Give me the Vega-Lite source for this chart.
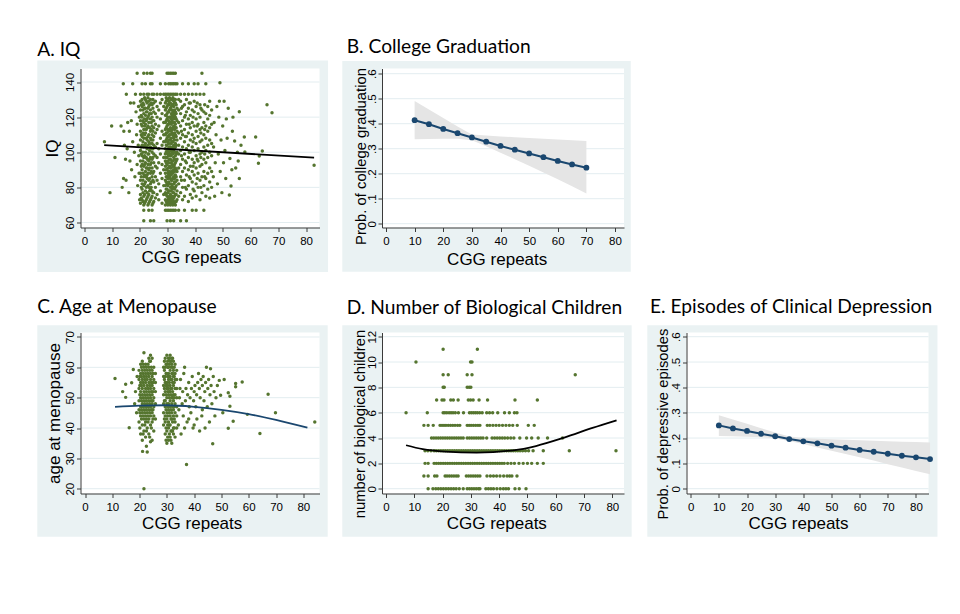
{
  "$schema": "https://vega.github.io/schema/vega-lite/v6.json",
  "description": "CGG repeats and five outcomes, Stata-style panels",
  "padding": {"left": 36.5, "top": 36.5, "right": 5, "bottom": 5},
  "background": "white",
  "datasets": {
    "iq": [
      {"cgg":7.2,"iq":106},{"cgg":9.2,"iq":77},{"cgg":9.8,"iq":115},{"cgg":11,"iq":97},{"cgg":13.2,"iq":115},{"cgg":13.6,"iq":80},{"cgg":14,"iq":139},{"cgg":14.1,"iq":85},{"cgg":14.2,"iq":112},{"cgg":14.4,"iq":104},
      {"cgg":14.8,"iq":96},{"cgg":15,"iq":84},{"cgg":15.1,"iq":133},{"cgg":15.4,"iq":102},{"cgg":15.6,"iq":117},{"cgg":16,"iq":77},{"cgg":16.2,"iq":112},{"cgg":16.4,"iq":95},{"cgg":16.6,"iq":128},{"cgg":16.9,"iq":118},
      {"cgg":17,"iq":90},{"cgg":17.4,"iq":106},{"cgg":17.4,"iq":139},{"cgg":17.8,"iq":128},{"cgg":18,"iq":100},{"cgg":18.2,"iq":86},{"cgg":18.4,"iq":133},{"cgg":18.6,"iq":123},{"cgg":18.8,"iq":110},{"cgg":19,"iq":93},
      {"cgg":19,"iq":116},{"cgg":19,"iq":145},{"cgg":19.2,"iq":81},{"cgg":19.4,"iq":104},{"cgg":19.5,"iq":126},{"cgg":19.6,"iq":98},{"cgg":19.7,"iq":88},{"cgg":19.8,"iq":120},{"cgg":19.9,"iq":73},
      {"cgg":20.2,"iq":71},{"cgg":20.2,"iq":76},{"cgg":20.2,"iq":84},{"cgg":20.2,"iq":88},{"cgg":20.2,"iq":95},{"cgg":20.2,"iq":101},{"cgg":20.2,"iq":107},{"cgg":20.2,"iq":112},{"cgg":20.2,"iq":118},{"cgg":20.2,"iq":124},{"cgg":20.2,"iq":129},{"cgg":20.2,"iq":133},
      {"cgg":20.5,"iq":74},{"cgg":20.5,"iq":80},{"cgg":20.5,"iq":86},{"cgg":20.5,"iq":92},{"cgg":20.5,"iq":99},{"cgg":20.5,"iq":103},{"cgg":20.5,"iq":110},{"cgg":20.5,"iq":116},{"cgg":20.5,"iq":121},{"cgg":20.5,"iq":127},
      {"cgg":20.8,"iq":73},{"cgg":20.8,"iq":79},{"cgg":20.8,"iq":82},{"cgg":20.8,"iq":90},{"cgg":20.8,"iq":93},{"cgg":20.8,"iq":98},{"cgg":20.8,"iq":104},{"cgg":20.8,"iq":109},{"cgg":20.8,"iq":115},{"cgg":20.8,"iq":120},{"cgg":20.8,"iq":126},{"cgg":20.8,"iq":130},{"cgg":20.8,"iq":139},
      {"cgg":21.1,"iq":72},{"cgg":21.1,"iq":77},{"cgg":21.1,"iq":84},{"cgg":21.1,"iq":88},{"cgg":21.1,"iq":95},{"cgg":21.1,"iq":100},{"cgg":21.1,"iq":106},{"cgg":21.1,"iq":111},{"cgg":21.1,"iq":118},{"cgg":21.1,"iq":124},{"cgg":21.1,"iq":128},
      {"cgg":21.4,"iq":70},{"cgg":21.4,"iq":75},{"cgg":21.4,"iq":81},{"cgg":21.4,"iq":86},{"cgg":21.4,"iq":92},{"cgg":21.4,"iq":97},{"cgg":21.4,"iq":103},{"cgg":21.4,"iq":108},{"cgg":21.4,"iq":113},{"cgg":21.4,"iq":117},{"cgg":21.4,"iq":122},{"cgg":21.4,"iq":127},{"cgg":21.4,"iq":133},{"cgg":21.4,"iq":145},{"cgg":21.4,"iq":67},{"cgg":21.4,"iq":61},
      {"cgg":21.7,"iq":71},{"cgg":21.7,"iq":76},{"cgg":21.7,"iq":82},{"cgg":21.7,"iq":87},{"cgg":21.7,"iq":93},{"cgg":21.7,"iq":98},{"cgg":21.7,"iq":104},{"cgg":21.7,"iq":110},{"cgg":21.7,"iq":115},{"cgg":21.7,"iq":119},{"cgg":21.7,"iq":125},{"cgg":21.7,"iq":131},
      {"cgg":22,"iq":72},{"cgg":22,"iq":78},{"cgg":22,"iq":83},{"cgg":22,"iq":89},{"cgg":22,"iq":94},{"cgg":22,"iq":100},{"cgg":22,"iq":105},{"cgg":22,"iq":111},{"cgg":22,"iq":116},{"cgg":22,"iq":121},{"cgg":22,"iq":125},{"cgg":22,"iq":130},{"cgg":22,"iq":139},
      {"cgg":22.3,"iq":73},{"cgg":22.3,"iq":80},{"cgg":22.3,"iq":86},{"cgg":22.3,"iq":91},{"cgg":22.3,"iq":97},{"cgg":22.3,"iq":103},{"cgg":22.3,"iq":108},{"cgg":22.3,"iq":113},{"cgg":22.3,"iq":118},{"cgg":22.3,"iq":123},{"cgg":22.3,"iq":129},
      {"cgg":22.6,"iq":74},{"cgg":22.6,"iq":77},{"cgg":22.6,"iq":85},{"cgg":22.6,"iq":87},{"cgg":22.6,"iq":91},{"cgg":22.6,"iq":96},{"cgg":22.6,"iq":102},{"cgg":22.6,"iq":107},{"cgg":22.6,"iq":114},{"cgg":22.6,"iq":119},{"cgg":22.6,"iq":123},{"cgg":22.6,"iq":128},{"cgg":22.6,"iq":133},{"cgg":22.6,"iq":145},
      {"cgg":22.9,"iq":70},{"cgg":22.9,"iq":75},{"cgg":22.9,"iq":81},{"cgg":22.9,"iq":88},{"cgg":22.9,"iq":93},{"cgg":22.9,"iq":99},{"cgg":22.9,"iq":104},{"cgg":22.9,"iq":109},{"cgg":22.9,"iq":115},{"cgg":22.9,"iq":120},{"cgg":22.9,"iq":125},{"cgg":22.9,"iq":131},
      {"cgg":23.2,"iq":71},{"cgg":23.2,"iq":76},{"cgg":23.2,"iq":80},{"cgg":23.2,"iq":84},{"cgg":23.2,"iq":90},{"cgg":23.2,"iq":95},{"cgg":23.2,"iq":99},{"cgg":23.2,"iq":106},{"cgg":23.2,"iq":110},{"cgg":23.2,"iq":117},{"cgg":23.2,"iq":121},{"cgg":23.2,"iq":126},{"cgg":23.2,"iq":129},{"cgg":23.2,"iq":133},{"cgg":23.2,"iq":67},
      {"cgg":23.5,"iq":72},{"cgg":23.5,"iq":78},{"cgg":23.5,"iq":85},{"cgg":23.5,"iq":91},{"cgg":23.5,"iq":96},{"cgg":23.5,"iq":101},{"cgg":23.5,"iq":105},{"cgg":23.5,"iq":114},{"cgg":23.5,"iq":122},{"cgg":23.5,"iq":127},
      {"cgg":23.8,"iq":73},{"cgg":23.8,"iq":79},{"cgg":23.8,"iq":82},{"cgg":23.8,"iq":88},{"cgg":23.8,"iq":93},{"cgg":23.8,"iq":97},{"cgg":23.8,"iq":103},{"cgg":23.8,"iq":108},{"cgg":23.8,"iq":112},{"cgg":23.8,"iq":119},{"cgg":23.8,"iq":124},{"cgg":23.8,"iq":130},{"cgg":23.8,"iq":139},{"cgg":23.8,"iq":145},{"cgg":23.8,"iq":61},
      {"cgg":24.1,"iq":74},{"cgg":24.1,"iq":80},{"cgg":24.1,"iq":83},{"cgg":24.1,"iq":89},{"cgg":24.1,"iq":94},{"cgg":24.1,"iq":102},{"cgg":24.1,"iq":107},{"cgg":24.1,"iq":113},{"cgg":24.1,"iq":117},{"cgg":24.1,"iq":122},{"cgg":24.1,"iq":128},
      {"cgg":24.4,"iq":70},{"cgg":24.4,"iq":75},{"cgg":24.4,"iq":78},{"cgg":24.4,"iq":86},{"cgg":24.4,"iq":91},{"cgg":24.4,"iq":96},{"cgg":24.4,"iq":100},{"cgg":24.4,"iq":105},{"cgg":24.4,"iq":110},{"cgg":24.4,"iq":115},{"cgg":24.4,"iq":120},{"cgg":24.4,"iq":127},{"cgg":24.4,"iq":133},{"cgg":24.4,"iq":139},{"cgg":24.4,"iq":145},{"cgg":24.4,"iq":67},
      {"cgg":24.7,"iq":71},{"cgg":24.7,"iq":77},{"cgg":24.7,"iq":84},{"cgg":24.7,"iq":88},{"cgg":24.7,"iq":97},{"cgg":24.7,"iq":102},{"cgg":24.7,"iq":107},{"cgg":24.7,"iq":112},{"cgg":24.7,"iq":118},{"cgg":24.7,"iq":125},{"cgg":24.7,"iq":130},
      {"cgg":25,"iq":72},{"cgg":25,"iq":77},{"cgg":25,"iq":83},{"cgg":25,"iq":89},{"cgg":25,"iq":94},{"cgg":25,"iq":99},{"cgg":25,"iq":104},{"cgg":25,"iq":109},{"cgg":25,"iq":114},{"cgg":25,"iq":118},{"cgg":25,"iq":123},{"cgg":25,"iq":128},{"cgg":25,"iq":133},{"cgg":25,"iq":61},
      {"cgg":25.6,"iq":74},{"cgg":25.6,"iq":80},{"cgg":25.6,"iq":86},{"cgg":25.6,"iq":92},{"cgg":25.6,"iq":98},{"cgg":25.6,"iq":103},{"cgg":25.6,"iq":111},{"cgg":25.6,"iq":116},{"cgg":25.6,"iq":122},{"cgg":25.6,"iq":129},
      {"cgg":26.2,"iq":76},{"cgg":26.2,"iq":84},{"cgg":26.2,"iq":91},{"cgg":26.2,"iq":97},{"cgg":26.2,"iq":105},{"cgg":26.2,"iq":113},{"cgg":26.2,"iq":120},{"cgg":26.2,"iq":126},{"cgg":26.2,"iq":133},
      {"cgg":26.8,"iq":73},{"cgg":26.8,"iq":82},{"cgg":26.8,"iq":94},{"cgg":26.8,"iq":102},{"cgg":26.8,"iq":115},{"cgg":26.8,"iq":124},
      {"cgg":27.4,"iq":78},{"cgg":27.4,"iq":88},{"cgg":27.4,"iq":99},{"cgg":27.4,"iq":108},{"cgg":27.4,"iq":119},{"cgg":27.4,"iq":128},{"cgg":27.4,"iq":133},{"cgg":27.4,"iq":139},
      {"cgg":28,"iq":71},{"cgg":28,"iq":85},{"cgg":28,"iq":93},{"cgg":28,"iq":104},{"cgg":28,"iq":112},{"cgg":28,"iq":122},{"cgg":28,"iq":130},
      {"cgg":28.6,"iq":76},{"cgg":28.6,"iq":81},{"cgg":28.6,"iq":90},{"cgg":28.6,"iq":97},{"cgg":28.6,"iq":106},{"cgg":28.6,"iq":110},{"cgg":28.6,"iq":117},{"cgg":28.6,"iq":126},{"cgg":28.6,"iq":133},
      {"cgg":29.2,"iq":70},{"cgg":29.2,"iq":73},{"cgg":29.2,"iq":77},{"cgg":29.2,"iq":81},{"cgg":29.2,"iq":84},{"cgg":29.2,"iq":88},{"cgg":29.2,"iq":92},{"cgg":29.2,"iq":95},{"cgg":29.2,"iq":99},{"cgg":29.2,"iq":102},{"cgg":29.2,"iq":106},{"cgg":29.2,"iq":110},{"cgg":29.2,"iq":113},{"cgg":29.2,"iq":117},{"cgg":29.2,"iq":121},{"cgg":29.2,"iq":124},{"cgg":29.2,"iq":128},{"cgg":29.2,"iq":133},{"cgg":29.2,"iq":139},{"cgg":29.2,"iq":67},
      {"cgg":29.5,"iq":72},{"cgg":29.5,"iq":76},{"cgg":29.5,"iq":79},{"cgg":29.5,"iq":83},{"cgg":29.5,"iq":86},{"cgg":29.5,"iq":90},{"cgg":29.5,"iq":94},{"cgg":29.5,"iq":97},{"cgg":29.5,"iq":100},{"cgg":29.5,"iq":104},{"cgg":29.5,"iq":107},{"cgg":29.5,"iq":111},{"cgg":29.5,"iq":114},{"cgg":29.5,"iq":118},{"cgg":29.5,"iq":121},{"cgg":29.5,"iq":125},{"cgg":29.5,"iq":129},{"cgg":29.5,"iq":131},
      {"cgg":29.8,"iq":71},{"cgg":29.8,"iq":75},{"cgg":29.8,"iq":79},{"cgg":29.8,"iq":82},{"cgg":29.8,"iq":86},{"cgg":29.8,"iq":90},{"cgg":29.8,"iq":93},{"cgg":29.8,"iq":97},{"cgg":29.8,"iq":101},{"cgg":29.8,"iq":104},{"cgg":29.8,"iq":108},{"cgg":29.8,"iq":111},{"cgg":29.8,"iq":115},{"cgg":29.8,"iq":119},{"cgg":29.8,"iq":122},{"cgg":29.8,"iq":126},{"cgg":29.8,"iq":130},{"cgg":29.8,"iq":133},{"cgg":29.8,"iq":145},{"cgg":29.8,"iq":67},{"cgg":29.8,"iq":61},
      {"cgg":30.1,"iq":70},{"cgg":30.1,"iq":73},{"cgg":30.1,"iq":77},{"cgg":30.1,"iq":81},{"cgg":30.1,"iq":85},{"cgg":30.1,"iq":88},{"cgg":30.1,"iq":91},{"cgg":30.1,"iq":95},{"cgg":30.1,"iq":99},{"cgg":30.1,"iq":102},{"cgg":30.1,"iq":106},{"cgg":30.1,"iq":109},{"cgg":30.1,"iq":113},{"cgg":30.1,"iq":116},{"cgg":30.1,"iq":120},{"cgg":30.1,"iq":123},{"cgg":30.1,"iq":127},{"cgg":30.1,"iq":130},
      {"cgg":30.4,"iq":72},{"cgg":30.4,"iq":74},{"cgg":30.4,"iq":78},{"cgg":30.4,"iq":83},{"cgg":30.4,"iq":87},{"cgg":30.4,"iq":89},{"cgg":30.4,"iq":94},{"cgg":30.4,"iq":98},{"cgg":30.4,"iq":100},{"cgg":30.4,"iq":105},{"cgg":30.4,"iq":109},{"cgg":30.4,"iq":112},{"cgg":30.4,"iq":116},{"cgg":30.4,"iq":118},{"cgg":30.4,"iq":123},{"cgg":30.4,"iq":127},{"cgg":30.4,"iq":129},{"cgg":30.4,"iq":133},{"cgg":30.4,"iq":139},{"cgg":30.4,"iq":145},{"cgg":30.4,"iq":67},
      {"cgg":30.7,"iq":71},{"cgg":30.7,"iq":75},{"cgg":30.7,"iq":78},{"cgg":30.7,"iq":82},{"cgg":30.7,"iq":86},{"cgg":30.7,"iq":89},{"cgg":30.7,"iq":92},{"cgg":30.7,"iq":96},{"cgg":30.7,"iq":101},{"cgg":30.7,"iq":103},{"cgg":30.7,"iq":107},{"cgg":30.7,"iq":110},{"cgg":30.7,"iq":113},{"cgg":30.7,"iq":117},{"cgg":30.7,"iq":120},{"cgg":30.7,"iq":124},{"cgg":30.7,"iq":128},{"cgg":30.7,"iq":131},
      {"cgg":31,"iq":70},{"cgg":31,"iq":73},{"cgg":31,"iq":76},{"cgg":31,"iq":80},{"cgg":31,"iq":85},{"cgg":31,"iq":88},{"cgg":31,"iq":91},{"cgg":31,"iq":96},{"cgg":31,"iq":99},{"cgg":31,"iq":103},{"cgg":31,"iq":107},{"cgg":31,"iq":110},{"cgg":31,"iq":114},{"cgg":31,"iq":117},{"cgg":31,"iq":120},{"cgg":31,"iq":125},{"cgg":31,"iq":128},{"cgg":31,"iq":133},{"cgg":31,"iq":139},{"cgg":31,"iq":145},{"cgg":31,"iq":67},{"cgg":31,"iq":61},
      {"cgg":31.3,"iq":72},{"cgg":31.3,"iq":74},{"cgg":31.3,"iq":78},{"cgg":31.3,"iq":82},{"cgg":31.3,"iq":84},{"cgg":31.3,"iq":87},{"cgg":31.3,"iq":91},{"cgg":31.3,"iq":94},{"cgg":31.3,"iq":98},{"cgg":31.3,"iq":101},{"cgg":31.3,"iq":105},{"cgg":31.3,"iq":108},{"cgg":31.3,"iq":112},{"cgg":31.3,"iq":116},{"cgg":31.3,"iq":119},{"cgg":31.3,"iq":122},{"cgg":31.3,"iq":126},{"cgg":31.3,"iq":130},
      {"cgg":31.6,"iq":71},{"cgg":31.6,"iq":75},{"cgg":31.6,"iq":79},{"cgg":31.6,"iq":81},{"cgg":31.6,"iq":84},{"cgg":31.6,"iq":89},{"cgg":31.6,"iq":93},{"cgg":31.6,"iq":95},{"cgg":31.6,"iq":100},{"cgg":31.6,"iq":102},{"cgg":31.6,"iq":106},{"cgg":31.6,"iq":111},{"cgg":31.6,"iq":113},{"cgg":31.6,"iq":118},{"cgg":31.6,"iq":121},{"cgg":31.6,"iq":124},{"cgg":31.6,"iq":127},{"cgg":31.6,"iq":130},{"cgg":31.6,"iq":133},{"cgg":31.6,"iq":139},{"cgg":31.6,"iq":145},{"cgg":31.6,"iq":67},
      {"cgg":31.9,"iq":70},{"cgg":31.9,"iq":73},{"cgg":31.9,"iq":77},{"cgg":31.9,"iq":80},{"cgg":31.9,"iq":85},{"cgg":31.9,"iq":88},{"cgg":31.9,"iq":92},{"cgg":31.9,"iq":95},{"cgg":31.9,"iq":99},{"cgg":31.9,"iq":103},{"cgg":31.9,"iq":106},{"cgg":31.9,"iq":110},{"cgg":31.9,"iq":114},{"cgg":31.9,"iq":117},{"cgg":31.9,"iq":120},{"cgg":31.9,"iq":123},{"cgg":31.9,"iq":127},{"cgg":31.9,"iq":131},
      {"cgg":32.2,"iq":72},{"cgg":32.2,"iq":74},{"cgg":32.2,"iq":77},{"cgg":32.2,"iq":82},{"cgg":32.2,"iq":86},{"cgg":32.2,"iq":90},{"cgg":32.2,"iq":92},{"cgg":32.2,"iq":97},{"cgg":32.2,"iq":101},{"cgg":32.2,"iq":104},{"cgg":32.2,"iq":108},{"cgg":32.2,"iq":109},{"cgg":32.2,"iq":115},{"cgg":32.2,"iq":119},{"cgg":32.2,"iq":122},{"cgg":32.2,"iq":126},{"cgg":32.2,"iq":129},{"cgg":32.2,"iq":133},{"cgg":32.2,"iq":139},{"cgg":32.2,"iq":145},{"cgg":32.2,"iq":67},{"cgg":32.2,"iq":61},
      {"cgg":32.5,"iq":71},{"cgg":32.5,"iq":75},{"cgg":32.5,"iq":79},{"cgg":32.5,"iq":83},{"cgg":32.5,"iq":85},{"cgg":32.5,"iq":89},{"cgg":32.5,"iq":93},{"cgg":32.5,"iq":96},{"cgg":32.5,"iq":100},{"cgg":32.5,"iq":102},{"cgg":32.5,"iq":107},{"cgg":32.5,"iq":111},{"cgg":32.5,"iq":113},{"cgg":32.5,"iq":117},{"cgg":32.5,"iq":121},{"cgg":32.5,"iq":124},{"cgg":32.5,"iq":128},{"cgg":32.5,"iq":130},
      {"cgg":32.8,"iq":70},{"cgg":32.8,"iq":76},{"cgg":32.8,"iq":80},{"cgg":32.8,"iq":83},{"cgg":32.8,"iq":87},{"cgg":32.8,"iq":91},{"cgg":32.8,"iq":94},{"cgg":32.8,"iq":98},{"cgg":32.8,"iq":103},{"cgg":32.8,"iq":105},{"cgg":32.8,"iq":110},{"cgg":32.8,"iq":114},{"cgg":32.8,"iq":116},{"cgg":32.8,"iq":120},{"cgg":32.8,"iq":123},{"cgg":32.8,"iq":128},{"cgg":32.8,"iq":130},{"cgg":32.8,"iq":133},{"cgg":32.8,"iq":139},{"cgg":32.8,"iq":145},{"cgg":32.8,"iq":67},
      {"cgg":33.1,"iq":72},{"cgg":33.1,"iq":76},{"cgg":33.1,"iq":81},{"cgg":33.1,"iq":86},{"cgg":33.1,"iq":90},{"cgg":33.1,"iq":95},{"cgg":33.1,"iq":99},{"cgg":33.1,"iq":104},{"cgg":33.1,"iq":109},{"cgg":33.1,"iq":114},{"cgg":33.1,"iq":119},{"cgg":33.1,"iq":122},{"cgg":33.1,"iq":127},
      {"cgg":33.4,"iq":73},{"cgg":33.4,"iq":78},{"cgg":33.4,"iq":84},{"cgg":33.4,"iq":89},{"cgg":33.4,"iq":96},{"cgg":33.4,"iq":100},{"cgg":33.4,"iq":107},{"cgg":33.4,"iq":112},{"cgg":33.4,"iq":118},{"cgg":33.4,"iq":125},{"cgg":33.4,"iq":133},{"cgg":33.4,"iq":139},
      {"cgg":34,"iq":75},{"cgg":34,"iq":82},{"cgg":34,"iq":91},{"cgg":34,"iq":99},{"cgg":34,"iq":104},{"cgg":34,"iq":111},{"cgg":34,"iq":117},{"cgg":34,"iq":124},{"cgg":34,"iq":130},{"cgg":34,"iq":67},
      {"cgg":34.7,"iq":77},{"cgg":34.7,"iq":86},{"cgg":34.7,"iq":93},{"cgg":34.7,"iq":101},{"cgg":34.7,"iq":108},{"cgg":34.7,"iq":115},{"cgg":34.7,"iq":122},{"cgg":34.7,"iq":129},{"cgg":34.7,"iq":133},{"cgg":34.7,"iq":61},
      {"cgg":35,"iq":84},{"cgg":35,"iq":98},{"cgg":35,"iq":112},{"cgg":35,"iq":125},
      {"cgg":35.4,"iq":73},{"cgg":35.4,"iq":80},{"cgg":35.4,"iq":89},{"cgg":35.4,"iq":96},{"cgg":35.4,"iq":103},{"cgg":35.4,"iq":110},{"cgg":35.4,"iq":118},{"cgg":35.4,"iq":126},{"cgg":35.4,"iq":139},
      {"cgg":36.1,"iq":75},{"cgg":36.1,"iq":84},{"cgg":36.1,"iq":91},{"cgg":36.1,"iq":99},{"cgg":36.1,"iq":106},{"cgg":36.1,"iq":113},{"cgg":36.1,"iq":120},{"cgg":36.1,"iq":127},{"cgg":36.1,"iq":133},{"cgg":36.1,"iq":67},
      {"cgg":36.4,"iq":80},{"cgg":36.4,"iq":95},{"cgg":36.4,"iq":109},{"cgg":36.4,"iq":121},
      {"cgg":36.8,"iq":79},{"cgg":36.8,"iq":87},{"cgg":36.8,"iq":94},{"cgg":36.8,"iq":102},{"cgg":36.8,"iq":109},{"cgg":36.8,"iq":116},{"cgg":36.8,"iq":123},{"cgg":36.8,"iq":130},{"cgg":36.8,"iq":61},
      {"cgg":37.5,"iq":72},{"cgg":37.5,"iq":81},{"cgg":37.5,"iq":90},{"cgg":37.5,"iq":97},{"cgg":37.5,"iq":104},{"cgg":37.5,"iq":111},{"cgg":37.5,"iq":119},{"cgg":37.5,"iq":125},{"cgg":37.5,"iq":133},{"cgg":37.5,"iq":139},
      {"cgg":37.8,"iq":86},{"cgg":37.8,"iq":100},{"cgg":37.8,"iq":116},{"cgg":37.8,"iq":128},
      {"cgg":38.2,"iq":76},{"cgg":38.2,"iq":85},{"cgg":38.2,"iq":92},{"cgg":38.2,"iq":100},{"cgg":38.2,"iq":107},{"cgg":38.2,"iq":114},{"cgg":38.2,"iq":121},{"cgg":38.2,"iq":128},
      {"cgg":38.9,"iq":74},{"cgg":38.9,"iq":83},{"cgg":38.9,"iq":89},{"cgg":38.9,"iq":96},{"cgg":38.9,"iq":103},{"cgg":38.9,"iq":110},{"cgg":38.9,"iq":117},{"cgg":38.9,"iq":124},{"cgg":38.9,"iq":133},{"cgg":38.9,"iq":67},
      {"cgg":39.2,"iq":79},{"cgg":39.2,"iq":92},{"cgg":39.2,"iq":106},{"cgg":39.2,"iq":120},
      {"cgg":39.6,"iq":78},{"cgg":39.6,"iq":87},{"cgg":39.6,"iq":94},{"cgg":39.6,"iq":101},{"cgg":39.6,"iq":108},{"cgg":39.6,"iq":115},{"cgg":39.6,"iq":123},{"cgg":39.6,"iq":129},{"cgg":39.6,"iq":139},
      {"cgg":40.3,"iq":75},{"cgg":40.3,"iq":82},{"cgg":40.3,"iq":91},{"cgg":40.3,"iq":98},{"cgg":40.3,"iq":105},{"cgg":40.3,"iq":112},{"cgg":40.3,"iq":119},{"cgg":40.3,"iq":126},{"cgg":40.3,"iq":133},{"cgg":40.3,"iq":67},
      {"cgg":40.7,"iq":85},{"cgg":40.7,"iq":96},{"cgg":40.7,"iq":115},{"cgg":40.7,"iq":128},
      {"cgg":41,"iq":80},{"cgg":41,"iq":88},{"cgg":41,"iq":95},{"cgg":41,"iq":102},{"cgg":41,"iq":109},{"cgg":41,"iq":116},{"cgg":41,"iq":122},{"cgg":41,"iq":139},
      {"cgg":41.7,"iq":73},{"cgg":41.7,"iq":84},{"cgg":41.7,"iq":92},{"cgg":41.7,"iq":99},{"cgg":41.7,"iq":106},{"cgg":41.7,"iq":113},{"cgg":41.7,"iq":120},{"cgg":41.7,"iq":127},{"cgg":41.7,"iq":133},
      {"cgg":42,"iq":80},{"cgg":42,"iq":97},{"cgg":42,"iq":111},{"cgg":42,"iq":125},
      {"cgg":42.4,"iq":77},{"cgg":42.4,"iq":86},{"cgg":42.4,"iq":93},{"cgg":42.4,"iq":100},{"cgg":42.4,"iq":107},{"cgg":42.4,"iq":114},{"cgg":42.4,"iq":124},{"cgg":42.4,"iq":145},
      {"cgg":43.1,"iq":81},{"cgg":43.1,"iq":89},{"cgg":43.1,"iq":96},{"cgg":43.1,"iq":103},{"cgg":43.1,"iq":110},{"cgg":43.1,"iq":117},{"cgg":43.1,"iq":123},{"cgg":43.1,"iq":133},{"cgg":43.1,"iq":67},
      {"cgg":43.4,"iq":86},{"cgg":43.4,"iq":99},{"cgg":43.4,"iq":113},{"cgg":43.4,"iq":127},
      {"cgg":43.8,"iq":75},{"cgg":43.8,"iq":85},{"cgg":43.8,"iq":94},{"cgg":43.8,"iq":101},{"cgg":43.8,"iq":108},{"cgg":43.8,"iq":115},{"cgg":43.8,"iq":122},{"cgg":43.8,"iq":139},
      {"cgg":44.5,"iq":79},{"cgg":44.5,"iq":88},{"cgg":44.5,"iq":97},{"cgg":44.5,"iq":104},{"cgg":44.5,"iq":112},{"cgg":44.5,"iq":119},{"cgg":44.5,"iq":126},
      {"cgg":45.2,"iq":74},{"cgg":45.2,"iq":83},{"cgg":45.2,"iq":91},{"cgg":45.2,"iq":100},{"cgg":45.2,"iq":107},{"cgg":45.2,"iq":114},{"cgg":45.2,"iq":121},{"cgg":45.2,"iq":129},
      {"cgg":45.9,"iq":80},{"cgg":45.9,"iq":89},{"cgg":45.9,"iq":98},{"cgg":45.9,"iq":105},{"cgg":45.9,"iq":116},{"cgg":45.9,"iq":124},
      {"cgg":46.5,"iq":86},{"cgg":46.6,"iq":103},{"cgg":46.8,"iq":117},{"cgg":47,"iq":75},{"cgg":47.2,"iq":94},{"cgg":47.5,"iq":110},{"cgg":47.8,"iq":126},{"cgg":48,"iq":82},{"cgg":48.3,"iq":99},{"cgg":48.5,"iq":120},
      {"cgg":48.7,"iq":129},{"cgg":48.9,"iq":139.6},{"cgg":49,"iq":89},{"cgg":49.3,"iq":107},{"cgg":49.6,"iq":77},{"cgg":49.9,"iq":115},{"cgg":50.2,"iq":94},{"cgg":50.4,"iq":129},{"cgg":50.7,"iq":101},{"cgg":51,"iq":85},
      {"cgg":51.2,"iq":119},{"cgg":51.5,"iq":108},{"cgg":51.9,"iq":125},{"cgg":52.3,"iq":75.6},{"cgg":52.5,"iq":96.5},{"cgg":52.9,"iq":80.8},{"cgg":53.2,"iq":90},{"cgg":53.4,"iq":112},{"cgg":53.6,"iq":120},{"cgg":54.2,"iq":106.4},
      {"cgg":54.6,"iq":91},{"cgg":55.2,"iq":100},{"cgg":55.5,"iq":95},{"cgg":55.9,"iq":123.1},{"cgg":55.9,"iq":85},{"cgg":56.5,"iq":104},
      {"cgg":57.7,"iq":108.7},{"cgg":57.9,"iq":100.1},{"cgg":61.8,"iq":108.7},{"cgg":62.8,"iq":93.7},{"cgg":63.1,"iq":97.9},{"cgg":64.2,"iq":100.7},{"cgg":65.9,"iq":127},{"cgg":67.7,"iq":122.5},{"cgg":82.9,"iq":92.6}
    ],
    "iqfit": [{"cgg":7.1,"iq":104},{"cgg":82.9,"iq":96.9}],
    "college": [
      {"cgg":10,"prob":0.414,"lo":0.338,"hi":0.491},{"cgg":15,"prob":0.398,"lo":0.339,"hi":0.457},{"cgg":20,"prob":0.379,"lo":0.34,"hi":0.423},
      {"cgg":25,"prob":0.362,"lo":0.34,"hi":0.389},{"cgg":30,"prob":0.345,"lo":0.334,"hi":0.357},{"cgg":35,"prob":0.328,"lo":0.31,"hi":0.353},
      {"cgg":40,"prob":0.311,"lo":0.284,"hi":0.349},{"cgg":45,"prob":0.296,"lo":0.258,"hi":0.346},{"cgg":50,"prob":0.281,"lo":0.232,"hi":0.343},
      {"cgg":55,"prob":0.266,"lo":0.205,"hi":0.34},{"cgg":60,"prob":0.251,"lo":0.178,"hi":0.337},{"cgg":65,"prob":0.237,"lo":0.15,"hi":0.334},
      {"cgg":70,"prob":0.224,"lo":0.121,"hi":0.331}
    ],
    "meno": [
      {"cgg":11,"age":56.3},{"cgg":13.8,"age":52},{"cgg":14.9,"age":50.1},{"cgg":14.9,"age":54.4},{"cgg":16.2,"age":40.1},{"cgg":17.1,"age":54.9},{"cgg":17.7,"age":59.3},{"cgg":18.2,"age":48},{"cgg":18.5,"age":52},{"cgg":18.9,"age":45},{"cgg":19.1,"age":57},
      {"cgg":19.8,"age":42},{"cgg":19.8,"age":46},{"cgg":19.8,"age":49},{"cgg":19.8,"age":53},{"cgg":19.8,"age":56},{"cgg":19.8,"age":59},
      {"cgg":20.1,"age":40},{"cgg":20.1,"age":45},{"cgg":20.1,"age":51},{"cgg":20.1,"age":54},{"cgg":20.1,"age":57},
      {"cgg":20.4,"age":38},{"cgg":20.4,"age":44},{"cgg":20.4,"age":47},{"cgg":20.4,"age":50},{"cgg":20.4,"age":52},{"cgg":20.4,"age":55},{"cgg":20.4,"age":58},{"cgg":20.4,"age":61},
      {"cgg":20.7,"age":43},{"cgg":20.7,"age":46},{"cgg":20.7,"age":49},{"cgg":20.7,"age":54},{"cgg":20.7,"age":57},{"cgg":20.7,"age":60},
      {"cgg":21,"age":36},{"cgg":21,"age":41},{"cgg":21,"age":45},{"cgg":21,"age":48},{"cgg":21,"age":51},{"cgg":21,"age":53},{"cgg":21,"age":56},{"cgg":21,"age":59},{"cgg":21,"age":62},
      {"cgg":21.3,"age":38},{"cgg":21.3,"age":44},{"cgg":21.3,"age":47},{"cgg":21.3,"age":50},{"cgg":21.3,"age":55},{"cgg":21.3,"age":58},{"cgg":21.3,"age":61},
      {"cgg":21.6,"age":39},{"cgg":21.6,"age":43},{"cgg":21.6,"age":46},{"cgg":21.6,"age":49},{"cgg":21.6,"age":52},{"cgg":21.6,"age":54},{"cgg":21.6,"age":57},{"cgg":21.6,"age":60},{"cgg":21.6,"age":64.8},{"cgg":21.6,"age":20},
      {"cgg":21.9,"age":41},{"cgg":21.9,"age":45},{"cgg":21.9,"age":48},{"cgg":21.9,"age":51},{"cgg":21.9,"age":56},{"cgg":21.9,"age":59},
      {"cgg":22.2,"age":37},{"cgg":22.2,"age":42},{"cgg":22.2,"age":44},{"cgg":22.2,"age":47},{"cgg":22.2,"age":50},{"cgg":22.2,"age":53},{"cgg":22.2,"age":55},{"cgg":22.2,"age":58},{"cgg":22.2,"age":61},
      {"cgg":22.5,"age":39},{"cgg":22.5,"age":43},{"cgg":22.5,"age":46},{"cgg":22.5,"age":49},{"cgg":22.5,"age":52},{"cgg":22.5,"age":57},{"cgg":22.5,"age":60},
      {"cgg":22.8,"age":40},{"cgg":22.8,"age":45},{"cgg":22.8,"age":48},{"cgg":22.8,"age":51},{"cgg":22.8,"age":54},{"cgg":22.8,"age":56},{"cgg":22.8,"age":59},{"cgg":22.8,"age":32.1},
      {"cgg":23.1,"age":42},{"cgg":23.1,"age":44},{"cgg":23.1,"age":47},{"cgg":23.1,"age":50},{"cgg":23.1,"age":53},{"cgg":23.1,"age":58},{"cgg":23.1,"age":61},
      {"cgg":23.4,"age":38},{"cgg":23.4,"age":43},{"cgg":23.4,"age":46},{"cgg":23.4,"age":49},{"cgg":23.4,"age":52},{"cgg":23.4,"age":55},{"cgg":23.4,"age":57},{"cgg":23.4,"age":60},{"cgg":23.4,"age":63},
      {"cgg":23.7,"age":37},{"cgg":23.7,"age":45},{"cgg":23.7,"age":48},{"cgg":23.7,"age":51},{"cgg":23.7,"age":54},{"cgg":23.7,"age":59},{"cgg":23.7,"age":62},
      {"cgg":24,"age":41},{"cgg":24,"age":44},{"cgg":24,"age":47},{"cgg":24,"age":50},{"cgg":24,"age":53},{"cgg":24,"age":56},{"cgg":24,"age":58},{"cgg":24,"age":62},{"cgg":24,"age":64},
      {"cgg":24.3,"age":40},{"cgg":24.3,"age":46},{"cgg":24.3,"age":49},{"cgg":24.3,"age":52},{"cgg":24.3,"age":55},{"cgg":24.3,"age":60},
      {"cgg":24.6,"age":36},{"cgg":24.6,"age":42},{"cgg":24.6,"age":45},{"cgg":24.6,"age":48},{"cgg":24.6,"age":51},{"cgg":24.6,"age":54},{"cgg":24.6,"age":57},{"cgg":24.6,"age":59},{"cgg":24.6,"age":63},
      {"cgg":24.9,"age":43},{"cgg":24.9,"age":46},{"cgg":24.9,"age":49},{"cgg":24.9,"age":52},{"cgg":24.9,"age":55},{"cgg":24.9,"age":58},
      {"cgg":25.2,"age":39},{"cgg":25.2,"age":44},{"cgg":25.2,"age":47},{"cgg":25.2,"age":50},{"cgg":25.2,"age":53},{"cgg":25.2,"age":56},{"cgg":25.2,"age":60},
      {"cgg":25.8,"age":43},{"cgg":25.8,"age":48},{"cgg":25.8,"age":52},{"cgg":25.8,"age":55},{"cgg":25.8,"age":58},
      {"cgg":21.1,"age":32.3},{"cgg":22.5,"age":34},{"cgg":24,"age":35.5},
      {"cgg":28.8,"age":41},{"cgg":28.8,"age":45},{"cgg":28.8,"age":48},{"cgg":28.8,"age":51},{"cgg":28.8,"age":54},{"cgg":28.8,"age":57},{"cgg":28.8,"age":60},
      {"cgg":29.1,"age":43},{"cgg":29.1,"age":49},{"cgg":29.1,"age":53},{"cgg":29.1,"age":56},{"cgg":29.1,"age":59},{"cgg":29.1,"age":62},
      {"cgg":29.4,"age":38},{"cgg":29.4,"age":42},{"cgg":29.4,"age":44},{"cgg":29.4,"age":47},{"cgg":29.4,"age":49},{"cgg":29.4,"age":52},{"cgg":29.4,"age":55},{"cgg":29.4,"age":57},{"cgg":29.4,"age":60},{"cgg":29.4,"age":63},
      {"cgg":29.7,"age":36},{"cgg":29.7,"age":40},{"cgg":29.7,"age":46},{"cgg":29.7,"age":51},{"cgg":29.7,"age":54},{"cgg":29.7,"age":58},{"cgg":29.7,"age":61},
      {"cgg":30,"age":35},{"cgg":30,"age":39},{"cgg":30,"age":43},{"cgg":30,"age":45},{"cgg":30,"age":48},{"cgg":30,"age":50},{"cgg":30,"age":53},{"cgg":30,"age":55},{"cgg":30,"age":58},{"cgg":30,"age":61},{"cgg":30,"age":64},
      {"cgg":30.3,"age":37},{"cgg":30.3,"age":41},{"cgg":30.3,"age":44},{"cgg":30.3,"age":47},{"cgg":30.3,"age":52},{"cgg":30.3,"age":54},{"cgg":30.3,"age":57},{"cgg":30.3,"age":60},{"cgg":30.3,"age":62},
      {"cgg":30.6,"age":36},{"cgg":30.6,"age":40},{"cgg":30.6,"age":42},{"cgg":30.6,"age":46},{"cgg":30.6,"age":48},{"cgg":30.6,"age":51},{"cgg":30.6,"age":53},{"cgg":30.6,"age":56},{"cgg":30.6,"age":58},{"cgg":30.6,"age":60},{"cgg":30.6,"age":63},
      {"cgg":30.9,"age":38},{"cgg":30.9,"age":41},{"cgg":30.9,"age":45},{"cgg":30.9,"age":50},{"cgg":30.9,"age":52},{"cgg":30.9,"age":55},{"cgg":30.9,"age":57},{"cgg":30.9,"age":61},{"cgg":30.9,"age":63},
      {"cgg":31.2,"age":37},{"cgg":31.2,"age":41},{"cgg":31.2,"age":44},{"cgg":31.2,"age":47},{"cgg":31.2,"age":49},{"cgg":31.2,"age":52},{"cgg":31.2,"age":54},{"cgg":31.2,"age":57},{"cgg":31.2,"age":59},{"cgg":31.2,"age":62},{"cgg":31.2,"age":64},
      {"cgg":31.5,"age":36},{"cgg":31.5,"age":39},{"cgg":31.5,"age":43},{"cgg":31.5,"age":46},{"cgg":31.5,"age":51},{"cgg":31.5,"age":53},{"cgg":31.5,"age":56},{"cgg":31.5,"age":60},{"cgg":31.5,"age":62},
      {"cgg":31.8,"age":35},{"cgg":31.8,"age":39},{"cgg":31.8,"age":43},{"cgg":31.8,"age":45},{"cgg":31.8,"age":48},{"cgg":31.8,"age":50},{"cgg":31.8,"age":53},{"cgg":31.8,"age":56},{"cgg":31.8,"age":58},{"cgg":31.8,"age":61},{"cgg":31.8,"age":63},
      {"cgg":32.1,"age":39},{"cgg":32.1,"age":42},{"cgg":32.1,"age":47},{"cgg":32.1,"age":50},{"cgg":32.1,"age":52},{"cgg":32.1,"age":55},{"cgg":32.1,"age":58},{"cgg":32.1,"age":60},{"cgg":32.1,"age":63},
      {"cgg":32.4,"age":38},{"cgg":32.4,"age":40},{"cgg":32.4,"age":44},{"cgg":32.4,"age":46},{"cgg":32.4,"age":49},{"cgg":32.4,"age":51},{"cgg":32.4,"age":54},{"cgg":32.4,"age":57},{"cgg":32.4,"age":59},{"cgg":32.4,"age":62},
      {"cgg":32.7,"age":40},{"cgg":32.7,"age":43},{"cgg":32.7,"age":47},{"cgg":32.7,"age":50},{"cgg":32.7,"age":55},{"cgg":32.7,"age":57},{"cgg":32.7,"age":60},
      {"cgg":33,"age":37},{"cgg":33,"age":42},{"cgg":33,"age":45},{"cgg":33,"age":48},{"cgg":33,"age":51},{"cgg":33,"age":53},{"cgg":33,"age":56},{"cgg":33,"age":58},{"cgg":33,"age":61},
      {"cgg":33.6,"age":40},{"cgg":33.6,"age":44},{"cgg":33.6,"age":47},{"cgg":33.6,"age":50},{"cgg":33.6,"age":53},{"cgg":33.6,"age":56},{"cgg":33.6,"age":59},
      {"cgg":34.2,"age":41},{"cgg":34.4,"age":46},{"cgg":34.6,"age":50},{"cgg":34.8,"age":53},{"cgg":35,"age":56},{"cgg":35.2,"age":38},{"cgg":35.6,"age":48},{"cgg":35.8,"age":52},{"cgg":36,"age":44},{"cgg":36.2,"age":58},
      {"cgg":36.5,"age":40},{"cgg":36.5,"age":60},{"cgg":36.8,"age":49},{"cgg":37,"age":53},{"cgg":37.2,"age":28},{"cgg":37.4,"age":42},{"cgg":37.6,"age":51},{"cgg":38,"age":43},{"cgg":38,"age":55},{"cgg":38.2,"age":47},
      {"cgg":38.5,"age":50},{"cgg":38.8,"age":45},{"cgg":39,"age":53},{"cgg":39.3,"age":57},{"cgg":39.6,"age":40},{"cgg":39.8,"age":49},{"cgg":40,"age":41},{"cgg":40,"age":52},{"cgg":40.3,"age":54},{"cgg":40.6,"age":47},
      {"cgg":40.9,"age":51},{"cgg":41,"age":43},{"cgg":41.3,"age":55},{"cgg":41.6,"age":58},{"cgg":41.9,"age":53},{"cgg":42,"age":39},{"cgg":42.2,"age":50},{"cgg":42.5,"age":56},{"cgg":42.8,"age":44},{"cgg":43,"age":46},
      {"cgg":43,"age":54},{"cgg":43.3,"age":57},{"cgg":43.6,"age":49},{"cgg":43.9,"age":52},{"cgg":44,"age":40},{"cgg":44.2,"age":55},{"cgg":44.5,"age":60},{"cgg":44.8,"age":47},{"cgg":45,"age":53},{"cgg":45.3,"age":56},
      {"cgg":45.6,"age":42},{"cgg":45.8,"age":51},{"cgg":46,"age":59.5},{"cgg":46.2,"age":54},{"cgg":46.5,"age":48},{"cgg":46.8,"age":34.8},{"cgg":47,"age":57},{"cgg":47.3,"age":52},{"cgg":47.6,"age":44},{"cgg":48,"age":50},
      {"cgg":48.5,"age":54},{"cgg":49.2,"age":55.7},{"cgg":49.7,"age":50.8},{"cgg":50.5,"age":45},{"cgg":51,"age":56},{"cgg":52.5,"age":51.6},{"cgg":53.1,"age":50.5},{"cgg":52.5,"age":39.9},{"cgg":53.1,"age":47.2},{"cgg":54.3,"age":42.2},
      {"cgg":55.2,"age":54.7},{"cgg":55.2,"age":53.6},{"cgg":57.6,"age":55.2},{"cgg":59.5,"age":44.5},{"cgg":64.1,"age":38.2},{"cgg":67.1,"age":51.1},{"cgg":69.8,"age":45},{"cgg":84.2,"age":42}
    ],
    "menofit": [{"cgg":11,"age":47},{"cgg":20,"age":47.4},{"cgg":30,"age":47.5},{"cgg":40,"age":47},{"cgg":50,"age":46},{"cgg":60,"age":44.6},{"cgg":70,"age":42.7},{"cgg":81.5,"age":40.1}],
    "kids": [
      {"cgg":20.2,"children":11},{"cgg":32.3,"children":11},
      {"cgg":10.6,"children":10},{"cgg":29.9,"children":10},{"cgg":30.4,"children":10},
      {"cgg":20.2,"children":9},{"cgg":22,"children":9},{"cgg":28.7,"children":9},{"cgg":30.4,"children":9},{"cgg":66.9,"children":9},
      {"cgg":20.2,"children":8},{"cgg":20.6,"children":8},{"cgg":28.7,"children":8},{"cgg":29.4,"children":8},{"cgg":30,"children":8},
      {"cgg":17.9,"children":7},{"cgg":19.8,"children":7},{"cgg":20.5,"children":7},{"cgg":22.9,"children":7},{"cgg":23.8,"children":7},{"cgg":25.5,"children":7},{"cgg":29.1,"children":7},{"cgg":29.9,"children":7},{"cgg":30.8,"children":7},{"cgg":32.9,"children":7},{"cgg":35.9,"children":7},{"cgg":45.6,"children":7},{"cgg":53.5,"children":7},
      {"cgg":7.1,"children":6},{"cgg":14.6,"children":6},{"cgg":20.2,"children":6},{"cgg":20.8,"children":6},{"cgg":21.5,"children":6},{"cgg":22.3,"children":6},{"cgg":23,"children":6},{"cgg":23.7,"children":6},{"cgg":24.5,"children":6},{"cgg":25.6,"children":6},
      {"cgg":27.4,"children":6},{"cgg":29.5,"children":6},{"cgg":30.2,"children":6},{"cgg":30.9,"children":6},{"cgg":31.6,"children":6},{"cgg":32.3,"children":6},{"cgg":33.1,"children":6},{"cgg":34,"children":6},{"cgg":35.6,"children":6},{"cgg":36.6,"children":6},
      {"cgg":37.7,"children":6},{"cgg":39.5,"children":6},{"cgg":41.9,"children":6},{"cgg":43.6,"children":6},{"cgg":45.4,"children":6},{"cgg":46.3,"children":6},
      {"cgg":13.4,"children":5},{"cgg":14.9,"children":5},{"cgg":16.7,"children":5},{"cgg":19.1,"children":5},{"cgg":19.8,"children":5},{"cgg":20.5,"children":5},{"cgg":21.2,"children":5},{"cgg":22,"children":5},{"cgg":22.8,"children":5},{"cgg":23.6,"children":5},
      {"cgg":24.4,"children":5},{"cgg":25.3,"children":5},{"cgg":26.1,"children":5},{"cgg":28.7,"children":5},{"cgg":29.4,"children":5},{"cgg":30.1,"children":5},{"cgg":30.9,"children":5},{"cgg":31.7,"children":5},{"cgg":32.5,"children":5},{"cgg":33.2,"children":5},
      {"cgg":35.8,"children":5},{"cgg":36.7,"children":5},{"cgg":37.8,"children":5},{"cgg":38.9,"children":5},{"cgg":40,"children":5},{"cgg":41.2,"children":5},{"cgg":42.4,"children":5},{"cgg":43.6,"children":5},{"cgg":44.8,"children":5},{"cgg":46.4,"children":5},{"cgg":50.3,"children":5},{"cgg":52.4,"children":5},
      {"cgg":16.1,"children":4},{"cgg":16.9,"children":4},{"cgg":17.7,"children":4},{"cgg":18.5,"children":4},{"cgg":19.3,"children":4},{"cgg":20.1,"children":4},{"cgg":20.9,"children":4},{"cgg":21.7,"children":4},{"cgg":22.5,"children":4},{"cgg":23.3,"children":4},
      {"cgg":24.1,"children":4},{"cgg":24.9,"children":4},{"cgg":25.7,"children":4},{"cgg":26.5,"children":4},{"cgg":27.3,"children":4},{"cgg":28.7,"children":4},{"cgg":29.5,"children":4},{"cgg":30.3,"children":4},{"cgg":31.1,"children":4},{"cgg":31.9,"children":4},
      {"cgg":32.7,"children":4},{"cgg":33.5,"children":4},{"cgg":34.3,"children":4},{"cgg":35.6,"children":4},{"cgg":37.5,"children":4},{"cgg":38.4,"children":4},{"cgg":39.3,"children":4},{"cgg":40.2,"children":4},{"cgg":41.1,"children":4},{"cgg":42,"children":4},
      {"cgg":43,"children":4},{"cgg":44.1,"children":4},{"cgg":45.2,"children":4},{"cgg":47.3,"children":4},{"cgg":49.7,"children":4},{"cgg":51.5,"children":4},{"cgg":53.8,"children":4},{"cgg":57.1,"children":4},{"cgg":62.4,"children":4},
      {"cgg":13.8,"children":3},{"cgg":14.8,"children":3},{"cgg":15.9,"children":3},{"cgg":17,"children":3},{"cgg":17.8,"children":3},{"cgg":18.6,"children":3},{"cgg":19.4,"children":3},{"cgg":20.2,"children":3},{"cgg":21,"children":3},{"cgg":21.8,"children":3},
      {"cgg":22.6,"children":3},{"cgg":23.4,"children":3},{"cgg":24.2,"children":3},{"cgg":25,"children":3},{"cgg":25.8,"children":3},{"cgg":26.6,"children":3},{"cgg":27.4,"children":3},{"cgg":28.2,"children":3},{"cgg":29,"children":3},{"cgg":29.8,"children":3},
      {"cgg":30.6,"children":3},{"cgg":31.4,"children":3},{"cgg":32.2,"children":3},{"cgg":33,"children":3},{"cgg":33.8,"children":3},{"cgg":34.6,"children":3},{"cgg":35.4,"children":3},{"cgg":36.2,"children":3},{"cgg":37,"children":3},{"cgg":37.8,"children":3},
      {"cgg":38.6,"children":3},{"cgg":39.4,"children":3},{"cgg":40.2,"children":3},{"cgg":41,"children":3},{"cgg":41.8,"children":3},{"cgg":42.6,"children":3},{"cgg":43.4,"children":3},{"cgg":44.2,"children":3},{"cgg":45,"children":3},{"cgg":45.8,"children":3},
      {"cgg":46.6,"children":3},{"cgg":47.4,"children":3},{"cgg":48.3,"children":3},{"cgg":49.3,"children":3},{"cgg":50.4,"children":3},{"cgg":52,"children":3},{"cgg":55.6,"children":3},{"cgg":64.8,"children":3},{"cgg":81.3,"children":3},
      {"cgg":13.8,"children":2},{"cgg":14.9,"children":2},{"cgg":17,"children":2},{"cgg":17.8,"children":2},{"cgg":18.6,"children":2},{"cgg":19.4,"children":2},{"cgg":20.2,"children":2},{"cgg":21,"children":2},{"cgg":21.8,"children":2},{"cgg":22.6,"children":2},
      {"cgg":23.4,"children":2},{"cgg":24.2,"children":2},{"cgg":25,"children":2},{"cgg":25.8,"children":2},{"cgg":26.6,"children":2},{"cgg":27.4,"children":2},{"cgg":28.2,"children":2},{"cgg":29,"children":2},{"cgg":29.8,"children":2},{"cgg":30.6,"children":2},
      {"cgg":31.4,"children":2},{"cgg":32.2,"children":2},{"cgg":33,"children":2},{"cgg":33.8,"children":2},{"cgg":34.6,"children":2},{"cgg":35.4,"children":2},{"cgg":36.2,"children":2},{"cgg":37,"children":2},{"cgg":37.8,"children":2},{"cgg":38.6,"children":2},
      {"cgg":39.4,"children":2},{"cgg":40.2,"children":2},{"cgg":41,"children":2},{"cgg":41.8,"children":2},{"cgg":43,"children":2},{"cgg":44.2,"children":2},{"cgg":45.4,"children":2},{"cgg":47,"children":2},{"cgg":48.5,"children":2},{"cgg":50,"children":2},
      {"cgg":51.5,"children":2},{"cgg":53.5,"children":2},{"cgg":55.6,"children":2},
      {"cgg":13.4,"children":1},{"cgg":14.9,"children":1},{"cgg":17.2,"children":1},{"cgg":18,"children":1},{"cgg":20.9,"children":1},{"cgg":21.6,"children":1},{"cgg":22.4,"children":1},{"cgg":23.2,"children":1},{"cgg":24,"children":1},{"cgg":24.8,"children":1},
      {"cgg":25.5,"children":1},{"cgg":28.4,"children":1},{"cgg":29.2,"children":1},{"cgg":30,"children":1},{"cgg":30.8,"children":1},{"cgg":31.6,"children":1},{"cgg":32.4,"children":1},{"cgg":33.2,"children":1},{"cgg":35.7,"children":1},{"cgg":36.9,"children":1},
      {"cgg":38,"children":1},{"cgg":39.1,"children":1},{"cgg":40.3,"children":1},{"cgg":41.6,"children":1},{"cgg":42.8,"children":1},{"cgg":43.7,"children":1},{"cgg":44.5,"children":1},{"cgg":46.3,"children":1},
      {"cgg":14.9,"children":0},{"cgg":16.6,"children":0},{"cgg":17.6,"children":0},{"cgg":18.5,"children":0},{"cgg":19.4,"children":0},{"cgg":20.3,"children":0},{"cgg":21.2,"children":0},{"cgg":22.1,"children":0},{"cgg":23,"children":0},{"cgg":23.9,"children":0},
      {"cgg":24.8,"children":0},{"cgg":25.9,"children":0},{"cgg":27.3,"children":0},{"cgg":28.7,"children":0},{"cgg":29.5,"children":0},{"cgg":30.3,"children":0},{"cgg":31.1,"children":0},{"cgg":31.9,"children":0},{"cgg":32.7,"children":0},{"cgg":33.2,"children":0},
      {"cgg":35.3,"children":0},{"cgg":36.2,"children":0},{"cgg":37.1,"children":0},{"cgg":38,"children":0},{"cgg":39.2,"children":0},{"cgg":40.4,"children":0},{"cgg":41.5,"children":0},{"cgg":42.4,"children":0},{"cgg":43.3,"children":0},{"cgg":45.6,"children":0},
      {"cgg":47.1,"children":0},{"cgg":49.5,"children":0}
    ],
    "kidsfit": [{"cgg":7.1,"children":3.43},{"cgg":13,"children":3.12},{"cgg":21,"children":2.93},{"cgg":32,"children":2.85},{"cgg":45,"children":3.03},{"cgg":53,"children":3.37},{"cgg":63,"children":4.03},{"cgg":73,"children":4.8},{"cgg":81.5,"children":5.4}],
    "depress": [
      {"cgg":10,"prob":0.25,"lo":0.208,"hi":0.29},{"cgg":15,"prob":0.238,"lo":0.207,"hi":0.273},{"cgg":20,"prob":0.228,"lo":0.205,"hi":0.256},{"cgg":25,"prob":0.217,"lo":0.203,"hi":0.239},
      {"cgg":30,"prob":0.207,"lo":0.198,"hi":0.222},{"cgg":35,"prob":0.196,"lo":0.188,"hi":0.206},{"cgg":40,"prob":0.187,"lo":0.176,"hi":0.2},{"cgg":45,"prob":0.179,"lo":0.163,"hi":0.197},
      {"cgg":50,"prob":0.17,"lo":0.15,"hi":0.195},{"cgg":55,"prob":0.162,"lo":0.137,"hi":0.193},{"cgg":60,"prob":0.153,"lo":0.124,"hi":0.191},{"cgg":65,"prob":0.146,"lo":0.111,"hi":0.189},
      {"cgg":70,"prob":0.138,"lo":0.097,"hi":0.187},{"cgg":75,"prob":0.13,"lo":0.084,"hi":0.185},{"cgg":80,"prob":0.124,"lo":0.07,"hi":0.184},{"cgg":85,"prob":0.117,"lo":0.057,"hi":0.182}
    ]
  },
  "columns": 3,
  "spacing": {"row": 105, "column": 62.5},
  "bounds": "flush",
  "concat": [
    {
      "width": 239, "height": 159,
      "title": {"text": "A. IQ", "offset": 0.5},
      "layer": [
        {"data": {"values": [{}]}, "mark": {"type": "rect", "color": "#eaf2f3"},
         "encoding": {"x": {"datum": -17.05, "type": "quantitative"}, "x2": {"datum": 87.94}, "y": {"datum": 31.81, "type": "quantitative"}, "y2": {"datum": 152.24}}},
        {"data": {"values": [{}]}, "mark": {"type": "rect", "color": "white"},
         "encoding": {"x": {"datum": -1.45, "type": "quantitative"}, "x2": {"datum": 84.85}, "y": {"datum": 57.15, "type": "quantitative"}, "y2": {"datum": 147.69}}},
        {"data": {"values": [{"tick": 60}, {"tick": 80}, {"tick": 100}, {"tick": 120}, {"tick": 140}]},
         "mark": {"type": "rule", "color": "#e3edf0"}, "encoding": {"y": {"field": "tick", "type": "quantitative"}}},
        {"data": {"name": "iq"}, "mark": {"type": "circle", "size": 12, "color": "#55752f", "opacity": 1},
         "encoding": {
           "x": {"field": "cgg", "type": "quantitative", "scale": {"domain": [-1.45, 84.85], "nice": false, "zero": false},
                 "axis": {"zindex": 1, "tickCount": 30, "format": "d", "labelOverlap": false, "values": [0, 10, 20, 30, 40, 50, 60, 70, 80], "title": "CGG repeats", "titleX": 110.5, "titleY": 35}},
           "y": {"field": "iq", "type": "quantitative", "scale": {"domain": [57.15, 147.69], "nice": false, "zero": false},
                 "axis": {"zindex": 1, "tickCount": 30, "format": "d", "labelOverlap": false, "values": [60, 80, 100, 120, 140], "title": "IQ", "titleFontSize": 17, "titleX": -23}}}},
        {"data": {"name": "iqfit"}, "mark": {"type": "line", "color": "black", "strokeWidth": 1.8},
         "encoding": {"x": {"field": "cgg", "type": "quantitative"}, "y": {"field": "iq", "type": "quantitative"}}}
      ]
    },
    {
      "width": 242, "height": 159,
      "title": {"text": "B. College Graduation", "offset": 4.3, "dx": 4.4},
      "layer": [
        {"data": {"values": [{}]}, "mark": {"type": "rect", "color": "#eaf2f3"},
         "encoding": {"x": {"datum": -15.27, "type": "quantitative"}, "x2": {"datum": 85.5}, "y": {"datum": -0.192, "type": "quantitative"}, "y2": {"datum": 0.6508}}},
        {"data": {"values": [{}]}, "mark": {"type": "rect", "color": "white"},
         "encoding": {"x": {"datum": -1.4, "type": "quantitative"}, "x2": {"datum": 83.14}, "y": {"datum": -0.0152, "type": "quantitative"}, "y2": {"datum": 0.6208}}},
        {"data": {"values": [{"tick": 0}, {"tick": 0.1}, {"tick": 0.2}, {"tick": 0.3}, {"tick": 0.4}, {"tick": 0.5}, {"tick": 0.6}]},
         "mark": {"type": "rule", "color": "#e3edf0"}, "encoding": {"y": {"field": "tick", "type": "quantitative"}}},
        {"data": {"name": "college"}, "mark": {"type": "area", "color": "#e5e5e5", "opacity": 1},
         "encoding": {"x": {"field": "cgg", "type": "quantitative"}, "y": {"field": "lo", "type": "quantitative"}, "y2": {"field": "hi"}}},
        {"data": {"name": "college"}, "mark": {"type": "line", "color": "#1a476f", "strokeWidth": 2},
         "encoding": {
           "x": {"field": "cgg", "type": "quantitative", "scale": {"domain": [-1.4, 83.14], "nice": false, "zero": false},
                 "axis": {"zindex": 1, "tickCount": 30, "format": "d", "labelOverlap": false, "values": [0, 10, 20, 30, 40, 50, 60, 70, 80], "title": "CGG repeats", "titleX": 114.7, "titleY": 36.5}},
           "y": {"field": "prob", "type": "quantitative", "scale": {"domain": [-0.0152, 0.6208], "nice": false, "zero": false},
                 "axis": {"zindex": 1, "tickCount": 30, "labelOverlap": false, "values": [0, 0.1, 0.2, 0.3, 0.4, 0.5, 0.6], "labelExpr": "datum.value == 0 ? '0' : replace(format(datum.value, '.1f'), '0.', '.')", "title": "Prob. of college graduation", "titleX": -17, "titleY": 87.5}}}},
        {"data": {"name": "college"}, "mark": {"type": "circle", "size": 34, "color": "#1a476f", "opacity": 1},
         "encoding": {"x": {"field": "cgg", "type": "quantitative"}, "y": {"field": "prob", "type": "quantitative"}}}
      ]
    },
    {
      "width": 242, "height": 159,
      "data": {"values": [{}]},
      "mark": {"type": "point", "opacity": 0},
      "encoding": {}
    },
    {
      "width": 239, "height": 161,
      "title": {"text": "C. Age at Menopause", "offset": 8},
      "layer": [
        {"data": {"values": [{}]}, "mark": {"type": "rect", "color": "#eaf2f3"},
         "encoding": {"x": {"datum": -17.48, "type": "quantitative"}, "x2": {"datum": 88.94}, "y": {"datum": 4.18, "type": "quantitative"}, "y2": {"datum": 73.86}}},
        {"data": {"values": [{}]}, "mark": {"type": "rect", "color": "white"},
         "encoding": {"x": {"datum": -1.65, "type": "quantitative"}, "x2": {"datum": 85.93}, "y": {"datum": 18.42, "type": "quantitative"}, "y2": {"datum": 71.48}}},
        {"data": {"values": [{"tick": 20}, {"tick": 30}, {"tick": 40}, {"tick": 50}, {"tick": 60}, {"tick": 70}]},
         "mark": {"type": "rule", "color": "#e3edf0"}, "encoding": {"y": {"field": "tick", "type": "quantitative"}}},
        {"data": {"name": "meno"}, "mark": {"type": "circle", "size": 12, "color": "#55752f", "opacity": 1},
         "encoding": {
           "x": {"field": "cgg", "type": "quantitative", "scale": {"domain": [-1.65, 85.93], "nice": false, "zero": false},
                 "axis": {"zindex": 1, "tickCount": 30, "format": "d", "labelOverlap": false, "values": [0, 10, 20, 30, 40, 50, 60, 70, 80], "title": "CGG repeats", "titleX": 111.2, "titleY": 35}},
           "y": {"field": "age", "type": "quantitative", "scale": {"domain": [18.42, 71.48], "nice": false, "zero": false},
                 "axis": {"zindex": 1, "tickCount": 30, "format": "d", "labelOverlap": false, "values": [20, 30, 40, 50, 60, 70], "title": "age at menopause", "titleFontSize": 17, "titleX": -20.8}}}},
        {"data": {"name": "menofit"}, "mark": {"type": "line", "color": "#1a476f", "strokeWidth": 1.8, "interpolate": "monotone"},
         "encoding": {"x": {"field": "cgg", "type": "quantitative"}, "y": {"field": "age", "type": "quantitative"}}}
      ]
    },
    {
      "width": 242, "height": 161,
      "title": {"text": "D. Number of Biological Children", "offset": 7.3, "dx": 4.4},
      "layer": [
        {"data": {"values": [{}]}, "mark": {"type": "rect", "color": "#eaf2f3"},
         "encoding": {"x": {"datum": -15.45, "type": "quantitative"}, "x2": {"datum": 86.84}, "y": {"datum": -3.79, "type": "quantitative"}, "y2": {"datum": 12.9}}},
        {"data": {"values": [{}]}, "mark": {"type": "rect", "color": "white"},
         "encoding": {"x": {"datum": -1.41, "type": "quantitative"}, "x2": {"datum": 84.13}, "y": {"datum": -0.379, "type": "quantitative"}, "y2": {"datum": 12.33}}},
        {"data": {"values": [{"tick": 0}, {"tick": 2}, {"tick": 4}, {"tick": 6}, {"tick": 8}, {"tick": 10}, {"tick": 12}]},
         "mark": {"type": "rule", "color": "#e3edf0"}, "encoding": {"y": {"field": "tick", "type": "quantitative"}}},
        {"data": {"name": "kids"}, "mark": {"type": "circle", "size": 12, "color": "#55752f", "opacity": 1},
         "encoding": {
           "x": {"field": "cgg", "type": "quantitative", "scale": {"domain": [-1.41, 84.13], "nice": false, "zero": false},
                 "axis": {"zindex": 1, "tickCount": 30, "format": "d", "labelOverlap": false, "values": [0, 10, 20, 30, 40, 50, 60, 70, 80], "title": "CGG repeats", "titleX": 114.3, "titleY": 34.5}},
           "y": {"field": "children", "type": "quantitative", "scale": {"domain": [-0.379, 12.33], "nice": false, "zero": false},
                 "axis": {"zindex": 1, "tickCount": 30, "format": "d", "labelOverlap": false, "values": [0, 2, 4, 6, 8, 10, 12], "title": "number of biological children", "titleX": -17.5, "titleY": 91}}}},
        {"data": {"name": "kidsfit"}, "mark": {"type": "line", "color": "black", "strokeWidth": 1.8, "interpolate": "monotone"},
         "encoding": {"x": {"field": "cgg", "type": "quantitative"}, "y": {"field": "children", "type": "quantitative"}}}
      ]
    },
    {
      "width": 242, "height": 161,
      "title": {"text": "E. Episodes of Clinical Depression", "offset": 8, "dx": 2.7},
      "layer": [
        {"data": {"values": [{}]}, "mark": {"type": "rect", "color": "#eaf2f3"},
         "encoding": {"x": {"datum": -15.41, "type": "quantitative"}, "x2": {"datum": 87.63}, "y": {"datum": -0.1895, "type": "quantitative"}, "y2": {"datum": 0.645}}},
        {"data": {"values": [{}]}, "mark": {"type": "rect", "color": "white"},
         "encoding": {"x": {"datum": -1.49, "type": "quantitative"}, "x2": {"datum": 84.45}, "y": {"datum": -0.0189, "type": "quantitative"}, "y2": {"datum": 0.6166}}},
        {"data": {"values": [{"tick": 0}, {"tick": 0.1}, {"tick": 0.2}, {"tick": 0.3}, {"tick": 0.4}, {"tick": 0.5}, {"tick": 0.6}]},
         "mark": {"type": "rule", "color": "#e3edf0"}, "encoding": {"y": {"field": "tick", "type": "quantitative"}}},
        {"data": {"name": "depress"}, "mark": {"type": "area", "color": "#e5e5e5", "opacity": 1},
         "encoding": {"x": {"field": "cgg", "type": "quantitative"}, "y": {"field": "lo", "type": "quantitative"}, "y2": {"field": "hi"}}},
        {"data": {"name": "depress"}, "mark": {"type": "line", "color": "#1a476f", "strokeWidth": 2},
         "encoding": {
           "x": {"field": "cgg", "type": "quantitative", "scale": {"domain": [-1.49, 84.45], "nice": false, "zero": false},
                 "axis": {"zindex": 1, "tickCount": 30, "format": "d", "labelOverlap": false, "values": [0, 10, 20, 30, 40, 50, 60, 70, 80], "title": "CGG repeats", "titleX": 111.5, "titleY": 34.5}},
           "y": {"field": "prob", "type": "quantitative", "scale": {"domain": [-0.0189, 0.6166], "nice": false, "zero": false},
                 "axis": {"zindex": 1, "tickCount": 30, "labelOverlap": false, "values": [0, 0.1, 0.2, 0.3, 0.4, 0.5, 0.6], "labelExpr": "datum.value == 0 ? '0' : replace(format(datum.value, '.1f'), '0.', '.')", "title": "Prob. of depressive episodes", "titleX": -19, "titleY": 91}}}},
        {"data": {"name": "depress"}, "mark": {"type": "circle", "size": 34, "color": "#1a476f", "opacity": 1},
         "encoding": {"x": {"field": "cgg", "type": "quantitative"}, "y": {"field": "prob", "type": "quantitative"}}}
      ]
    }
  ],
  "config": {
    "view": {"stroke": null, "fill": "white"},
    "font": "Liberation Sans",
    "title": {"font": "Lato", "fontSize": 19.2, "fontWeight": "normal", "anchor": "start", "color": "#000", "baseline": "alphabetic"},
    "axis": {
      "grid": false,
      "domainColor": "#3a3a3a", "domainWidth": 1, "tickColor": "#3a3a3a", "tickSize": 4, "tickWidth": 1,
      "labelFont": "Liberation Sans", "labelFontSize": 11.5, "labelColor": "#000", "labelFlush": false, "labelOverlap": false,
      "titleFont": "Liberation Sans", "titleFontWeight": "normal", "titleColor": "#000", "titleBaseline": "alphabetic"
    },
    "axisX": {"labelPadding": 4, "titleFontSize": 17},
    "axisY": {"labelAngle": -90, "labelAlign": "center", "labelBaseline": "bottom", "labelPadding": 1, "titleFontSize": 14.8}
  }
}
